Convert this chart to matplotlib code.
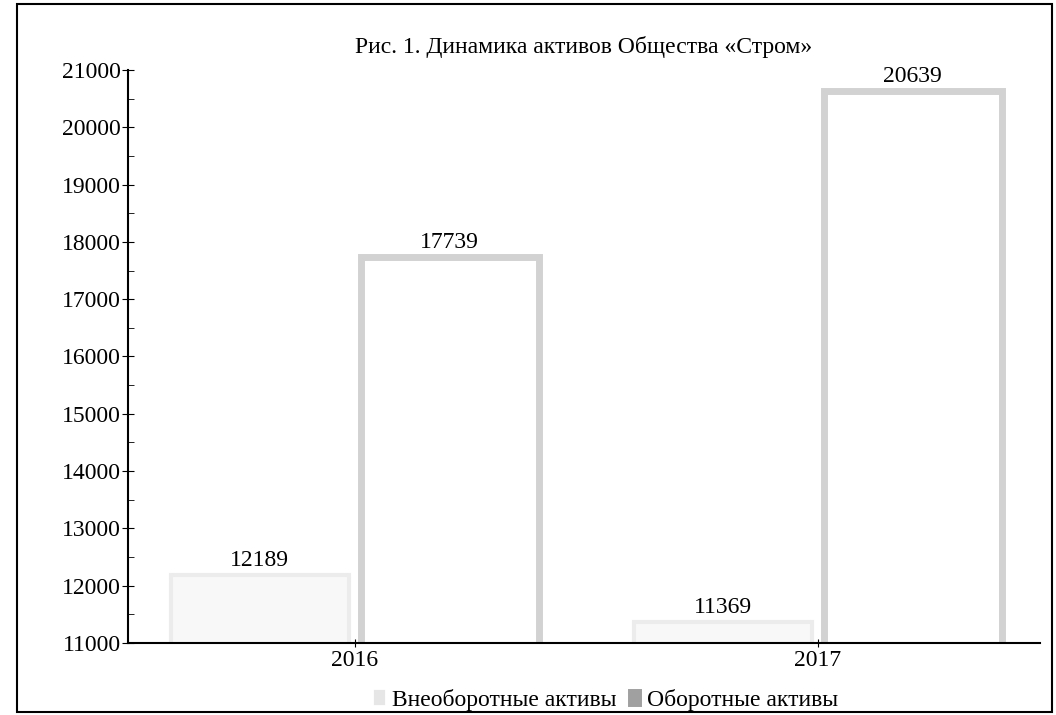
import matplotlib.pyplot as plt
import numpy as np
from matplotlib.patches import Rectangle
from matplotlib.ticker import MultipleLocator

years = ['2016', '2017']
noncurrent = [12189, 11369]
current = [17739, 20639]
series_names = ['Внеоборотные активы', 'Оборотные активы']
title = 'Рис. 1. Динамика активов Общества «Стром»'

plt.rcParams['font.family'] = ['Liberation Serif', 'DejaVu Serif']

fig = plt.figure(figsize=(10.56, 7.15), dpi=100)
ax = fig.add_axes([0.121, 0.101, 0.864, 0.801])

x = np.arange(len(years))
w = 0.385
off = 0.205
b1 = ax.bar(x - off, noncurrent, w, bottom=0, color='#f8f8f8', edgecolor='#ececec', linewidth=3)
b2 = ax.bar(x + off, current, w, bottom=0, color='white', edgecolor='#d2d2d2', linewidth=5)

for xi, v in zip(x - off, noncurrent):
    ax.text(xi, v + 70, str(v), ha='center', va='bottom', fontsize=17)
for xi, v in zip(x + off, current):
    ax.text(xi, v + 70, str(v), ha='center', va='bottom', fontsize=17)

ax.set_ylim(11000, 21000)
ax.set_xlim(-0.49, 1.48)
ax.yaxis.set_major_locator(MultipleLocator(1000))
ax.yaxis.set_minor_locator(MultipleLocator(500))
ax.set_xticks(x)
ax.set_xticklabels(years, fontsize=17)
ax.tick_params(axis='y', which='major', direction='inout', length=8, labelsize=17, pad=1)
ax.tick_params(axis='y', which='minor', direction='in', length=4)
ax.tick_params(axis='x', direction='inout', length=6, pad=2)
for s in ['top', 'right']:
    ax.spines[s].set_visible(False)
ax.spines['left'].set_linewidth(1.5)
ax.spines['bottom'].set_linewidth(1.5)

ax.set_title(title, fontsize=17, pad=12)

leg = fig.legend([b1, b2], series_names, loc='lower center', bbox_to_anchor=(0.575, -0.024),
                 ncol=2, frameon=False, fontsize=17, handlelength=0.3, handleheight=0.3,
                 handletextpad=0.4, columnspacing=0.6)
leg.legend_handles[0].set_facecolor('#e6e6e6')
leg.legend_handles[0].set_edgecolor('#e6e6e6')
leg.legend_handles[1].set_facecolor('#a0a0a0')
leg.legend_handles[1].set_edgecolor('#a0a0a0')

fig.patches.append(Rectangle((0.016, 0.004), 0.98, 0.99, transform=fig.transFigure,
                             fill=False, edgecolor='black', linewidth=1.5))

fig.savefig('out.png', dpi=100)
